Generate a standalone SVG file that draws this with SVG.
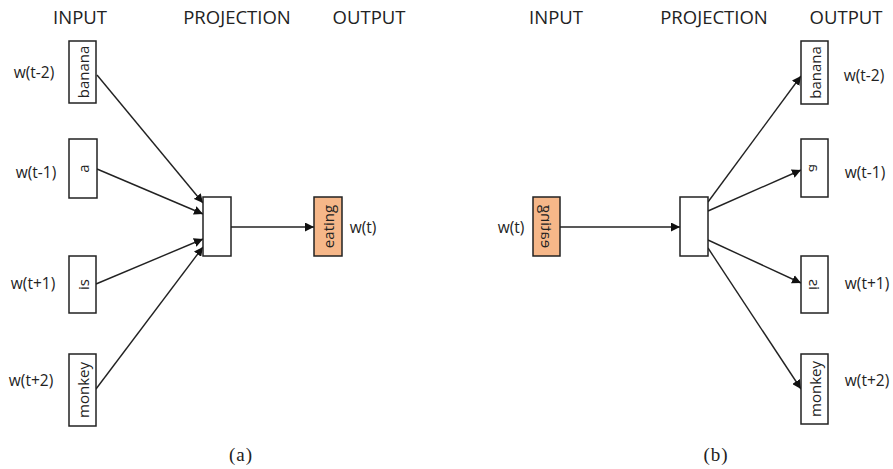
<svg xmlns="http://www.w3.org/2000/svg" width="893" height="469" viewBox="0 0 893 469">
<defs>
<marker id="ah" viewBox="0 0 10 10" refX="10" refY="5" markerWidth="9" markerHeight="9" markerUnits="userSpaceOnUse" orient="auto">
<path d="M0,0 L10,5 L0,10 z" fill="#111"/>
</marker>
</defs>
<style>
.hd{font-family:"Open Sans","Noto Sans",sans-serif;font-size:18.5px;fill:#222;text-anchor:middle}
.lb{font-family:"Open Sans","Noto Sans",sans-serif;font-size:15.5px;fill:#222;text-anchor:middle;dominant-baseline:central}
.bt{font-family:"Open Sans","Noto Sans",sans-serif;font-size:15px;fill:#222;text-anchor:middle;dominant-baseline:central}
.cap{font-family:"Liberation Serif",serif;font-size:19px;fill:#222;text-anchor:middle;letter-spacing:1px}
.box{fill:#fff;stroke:#222;stroke-width:1.5}
.or{fill:#F6B789;stroke:#222;stroke-width:1.5}
.ln{stroke:#222;stroke-width:1.4;fill:none;marker-end:url(#ah)}
</style>
<rect width="893" height="469" fill="#fff"/>
<g id="headers">
<text class="hd" x="80" y="24">INPUT</text>
<text class="hd" x="237" y="24">PROJECTION</text>
<text class="hd" x="369" y="24">OUTPUT</text>
<text class="hd" x="556" y="24">INPUT</text>
<text class="hd" x="714" y="24">PROJECTION</text>
<text class="hd" x="846" y="24">OUTPUT</text>
</g>
<g id="connectors">
<line class="ln" x1="97" y1="75" x2="203" y2="203"/>
<line class="ln" x1="97" y1="169" x2="203" y2="214"/>
<line class="ln" x1="96" y1="284" x2="203" y2="239"/>
<line class="ln" x1="96" y1="389" x2="203" y2="247"/>
<line class="ln" x1="231" y1="227" x2="314" y2="227"/>
<line class="ln" x1="560" y1="227" x2="680" y2="227"/>
<line class="ln" x1="708" y1="202" x2="801" y2="76"/>
<line class="ln" x1="708" y1="211" x2="801" y2="170"/>
<line class="ln" x1="708" y1="240" x2="801" y2="283"/>
<line class="ln" x1="708" y1="248" x2="801" y2="389"/>
</g>
<g id="a-banana"><rect class="box" x="69" y="41" width="27" height="62"/><text class="bt" transform="translate(82.5,72) rotate(-90)">banana</text><text class="lb" x="34" y="72">w(t-2)</text></g>
<g id="a-a"><rect class="box" x="69" y="139" width="28" height="59"/><text class="bt" transform="translate(83,168.5) rotate(-90)">a</text><text class="lb" x="36" y="172">w(t-1)</text></g>
<g id="a-is"><rect class="box" x="69" y="256" width="27" height="57"/><text class="bt" transform="translate(82.5,284.5) rotate(-90)">is</text><text class="lb" x="33" y="283">w(t+1)</text></g>
<g id="a-monkey"><rect class="box" x="69" y="354" width="27" height="72"/><text class="bt" transform="translate(82.5,390) rotate(-90)">monkey</text><text class="lb" x="31" y="380">w(t+2)</text></g>
<g id="a-proj"><rect class="box" x="203" y="197" width="28" height="59"/></g>
<g id="a-eating"><rect class="or" x="314" y="197" width="28" height="59"/><text class="bt" transform="translate(328,226.5) rotate(-90)">eating</text><text class="lb" x="363" y="227">w(t)</text></g>
<text class="cap" x="241" y="461">(a)</text>
<g id="b-eating"><rect class="or" x="533" y="197" width="27" height="59"/><text class="bt" transform="translate(546.5,226.5) rotate(-90) scale(1,-1)">eating</text><text class="lb" x="511" y="227">w(t)</text></g>
<g id="b-proj"><rect class="box" x="680" y="197" width="28" height="59"/></g>
<g id="b-banana"><rect class="box" x="801" y="41" width="27" height="63"/><text class="bt" transform="translate(814.5,72.5) rotate(-90)">banana</text><text class="lb" x="864" y="75">w(t-2)</text></g>
<g id="b-a"><rect class="box" x="801" y="139" width="27" height="58"/><text class="bt" transform="translate(814.5,168) rotate(-90) scale(1,-1)">a</text><text class="lb" x="865" y="172">w(t-1)</text></g>
<g id="b-is"><rect class="box" x="801" y="256" width="27" height="57"/><text class="bt" transform="translate(814.5,284.5) rotate(-90) scale(1,-1)">is</text><text class="lb" x="867" y="283">w(t+1)</text></g>
<g id="b-monkey"><rect class="box" x="801" y="354" width="27" height="70"/><text class="bt" transform="translate(814.5,389) rotate(-90)">monkey</text><text class="lb" x="867" y="380">w(t+2)</text></g>
<text class="cap" x="716" y="461">(b)</text>
</svg>
